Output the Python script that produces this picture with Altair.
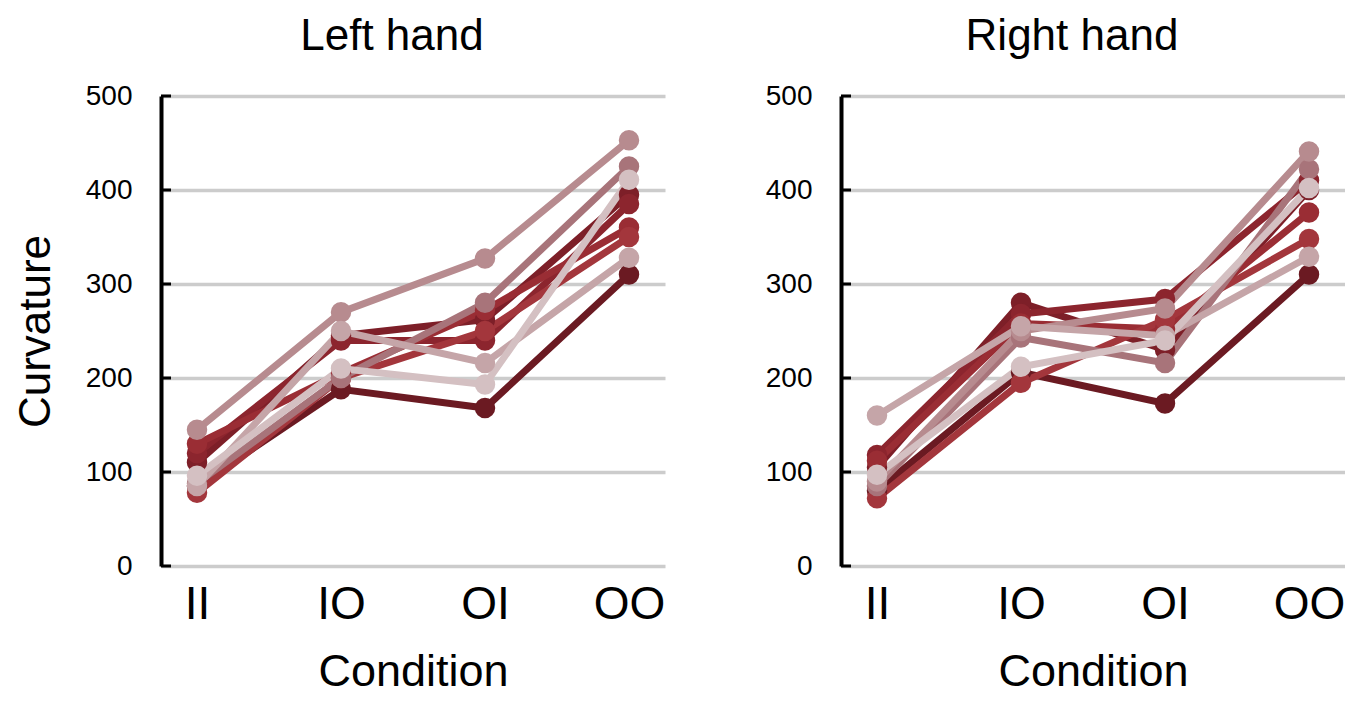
import altair as alt
import pandas as pd

FONT = "Liberation Sans"

conditions = ["II", "IO", "OI", "OO"]
subjects = ["S1", "S2", "S3", "S4", "S5", "S6", "S7", "S8", "S9"]
colors = ["#6b1a22", "#7d1f28", "#8c252e", "#9a2d34", "#a3363c",
          "#a8747a", "#b78b8f", "#c5a5a8", "#d4c0c2"]
y_ticks = [0, 100, 200, 300, 400, 500]

# Left hand, one value per subject for each condition
left_II = [85, 110, 120, 130, 78, 88, 145, 85, 96]
left_IO = [188, 245, 240, 205, 200, 200, 270, 250, 210]
left_OI = [168, 262, 240, 272, 250, 280, 327, 216, 193]
left_OO = [310, 395, 385, 360, 350, 425, 453, 328, 411]

# Right hand
right_II = [80, 105, 118, 112, 72, 85, 90, 160, 97]
right_IO = [206, 280, 268, 258, 195, 243, 250, 255, 212]
right_OI = [173, 230, 284, 252, 262, 216, 274, 245, 240]
right_OO = [310, 400, 410, 376, 348, 422, 441, 329, 402]


def make_df(cols):
    rows = []
    for cond, vals in zip(conditions, cols):
        for s, v in zip(subjects, vals):
            rows.append({"cond": cond, "subj": s, "val": v})
    return pd.DataFrame(rows)


left_df = make_df([left_II, left_IO, left_OI, left_OO])
right_df = make_df([right_II, right_IO, right_OI, right_OO])

yscale = alt.Scale(domain=[0, 500], nice=False)


def panel(df, title, ytitle):
    yaxis_kw = dict(values=y_ticks, grid=True, gridColor="#cccccc", gridWidth=3.5,
                    domainColor="black", domainWidth=4, ticks=False,
                    labelFontSize=28, labelPadding=29, labelFont=FONT,
                    labelColor="black")
    if ytitle:
        yaxis_kw.update(titleFontSize=44, titleFont=FONT, titleColor="black",
                        titleFontWeight="normal", titlePadding=27)
    yenc = alt.Y("val:Q", scale=yscale, axis=alt.Axis(**yaxis_kw),
                 title=ytitle if ytitle else None)
    xenc = alt.X("cond:N", sort=conditions,
                 scale=alt.Scale(type="point", padding=0.25),
                 axis=alt.Axis(labelAngle=0, domain=False, ticks=False, grid=False,
                               labelFontSize=46, labelFont=FONT, labelColor="black",
                               labelPadding=16, titleFontSize=45, titleFont=FONT,
                               titleColor="black", titleFontWeight="normal",
                               titlePadding=22),
                 title="Condition")
    cenc = alt.Color("subj:N", scale=alt.Scale(domain=subjects, range=colors),
                     legend=None)
    base = alt.Chart(df).encode(x=xenc, y=yenc, color=cenc,
                                order=alt.Order("cond:N"))
    lines = base.mark_line(strokeWidth=7)
    pts = base.mark_circle(size=420, opacity=1)
    ticks = alt.Chart(pd.DataFrame({"val": y_ticks})).mark_rule(
        color="black", strokeWidth=3).encode(
        y=alt.Y("val:Q", scale=yscale), x=alt.value(0), x2=alt.value(10))
    return alt.layer(lines, pts, ticks).properties(
        width=504, height=470,
        title=alt.TitleParams(title, fontSize=44, font=FONT, fontWeight="normal",
                              color="black", anchor="middle", offset=23, dx=-21))


chart = alt.hconcat(
    panel(left_df, "Left hand", "Curvature"),
    panel(right_df, "Right hand", ""),
    spacing=100,
).properties(padding={"left": 6, "top": 7, "right": 0, "bottom": 0},
             background="white").configure_view(stroke=None)

chart.save("out.html", embed_options={"renderer": "svg", "actions": False})
